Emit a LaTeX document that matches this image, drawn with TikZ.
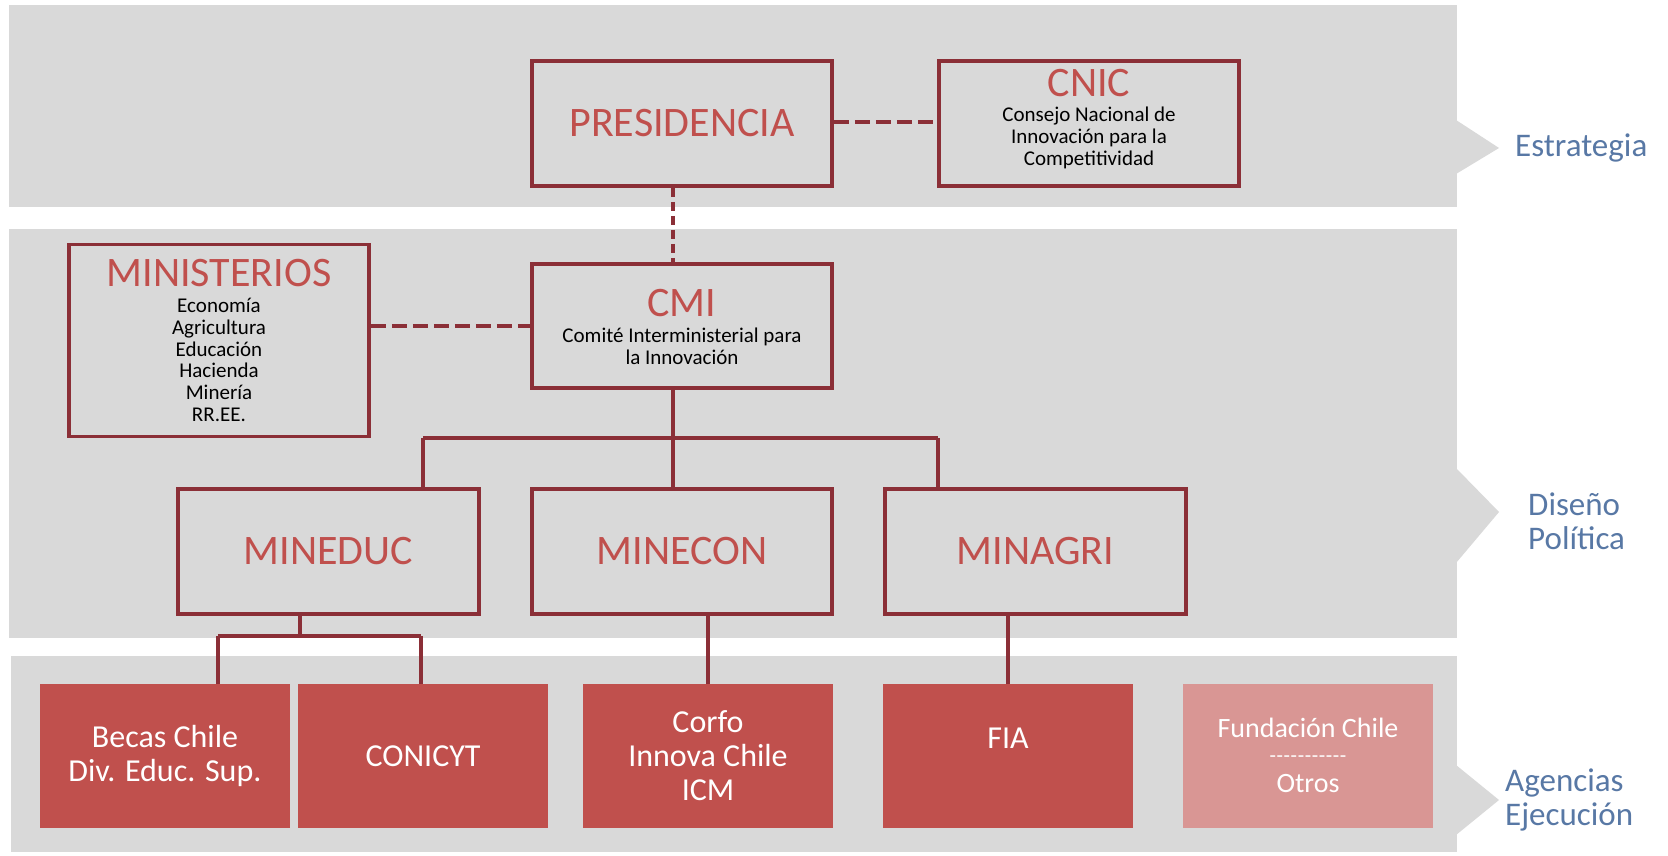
\documentclass[tikz,border=0pt]{standalone}
\usepackage{fontspec}
\setmainfont{Carlito}
\definecolor{bandgray}{RGB}{217,217,217}
\definecolor{boxred}{RGB}{139,47,55}
\definecolor{titlered}{RGB}{192,80,77}
\definecolor{fillred}{RGB}{192,80,77}
\definecolor{palered}{RGB}{217,150,148}
\definecolor{lblblue}{RGB}{88,120,165}
\tikzset{
  band/.style={fill=bandgray},
  obox/.style={draw=boxred, line width=3.5pt, minimum width=300pt, minimum height=125pt, inner sep=0pt},
  fbox/.style={fill=fillred, minimum width=250pt, minimum height=144pt, inner sep=0pt},
  big/.style={text=titlered, inner sep=0pt, font=\fontsize{42}{46}\selectfont},
  small/.style={text=black, align=center, inner sep=0pt, font=\fontsize{21}{21.8}\selectfont},
  wtext/.style={text=white, align=center, inner sep=0pt, font=\fontsize{32}{34}\selectfont},
  ptext/.style={text=white, align=center, inner sep=0pt, font=\fontsize{28}{30}\selectfont},
  lbl/.style={text=lblblue, align=left, anchor=west, inner sep=0pt, font=\fontsize{33}{34}\selectfont},
  conn/.style={draw=boxred, line width=3.5pt},
  dashh/.style={conn, dash pattern=on 15pt off 6pt},
  dashv/.style={conn, dash pattern=on 9pt off 5pt},
}
\begin{document}
\begin{tikzpicture}[x=1pt,y=-1pt]
\useasboundingbox (0,0) rectangle (1668,856);
\fill[white] (0,0) rectangle (1668,856);
% bands
\fill[band] (9,5) rectangle (1457,207);
\fill[band] (9,229) rectangle (1457,638);
\fill[band] (11,656) rectangle (1457,852);
\fill[band] (1456,120) -- (1499,148) -- (1456,174) -- cycle;
\fill[band] (1456,468) -- (1499,512) -- (1456,563) -- cycle;
\fill[band] (1456,765) -- (1499,800) -- (1456,835) -- cycle;
% labels
\node[lbl] (l1) at (1515,148) {Estrategia};
\node[lbl] (l2) at (1528,521) {Diseño\\Política};
\node[lbl] (l3) at (1505,800) {Agencias\\Ejecución};
% outlined boxes
\node[obox, big] (pres) at (682,123.5) {PRESIDENCIA};
\node[obox] (cnic) at (1089,123.5) {};
\node[big] (cnic-t) at (1089,83) {CNIC};
\node[small] (cnic-s) at (1089,138) {Consejo Nacional de\\Innovación para la\\Competitividad};
\node[obox, minimum height=124pt] (cmi) at (682,326) {};
\node[big] (cmi-t) at (682,303) {CMI};
\node[small] (cmi-s) at (682,346) {Comité Interministerial para\\la Innovación};
\node[obox, minimum height=192pt] (minis) at (219,340.5) {};
\node[big] (minis-t) at (219,273) {MINISTERIOS};
\node[small] (minis-s) at (219,360) {Economía\\Agricultura\\Educación\\Hacienda\\Minería\\RR.EE.};
\node[obox, big, minimum width=301pt] (mineduc) at (328.5,551.5) {MINEDUC};
\node[obox, big] (minecon) at (682,551.5) {MINECON};
\node[obox, big, minimum width=301pt] (minagri) at (1035.5,551.5) {MINAGRI};
% filled boxes
\node[fbox, wtext] (becas) at (165,756) {Becas Chile\\Div. Educ. Sup.};
\node[fbox, wtext] (conicyt) at (423,756) {CONICYT};
\node[fbox, wtext] (corfo) at (708,756) {Corfo\\Innova Chile\\ICM};
\node[fbox] (fia) at (1008,756) {};
\node[wtext] (fia-t) at (1008,738) {FIA};
\node[fbox, fill=palered] (fund) at (1308,756) {};
\node[ptext] (fund-a) at (1308,728) {Fundación Chile};
\node[ptext, font=\fontsize{21}{22}\selectfont] (fund-b) at (1308,759) {-\kern0.6pt-\kern0.6pt-\kern0.6pt-\kern0.6pt-\kern0.6pt-\kern0.6pt-\kern0.6pt-\kern0.6pt-\kern0.6pt-\kern0.6pt-};
\node[ptext] (fund-c) at (1308,784) {Otros};
% dashed links
\coordinate (tx) at (673,438);
\draw[dashh] (pres.east |- 0,122) -- (cnic.west |- 0,122);
\draw[dashv] (pres.south -| tx) -- (cmi.north -| tx);
\draw[dashh] (minis.east |- cmi) -- (cmi.west);
% tree
\coordinate (bl) at (423,438);
\coordinate (br) at (938,438);
\draw[conn] (cmi.south -| tx) -- (tx);
\draw[conn] (bl) -- (br);
\draw[conn] (bl) -- (bl |- mineduc.north);
\draw[conn] (tx) -- (tx |- minecon.north);
\draw[conn] (br) -- (br |- minagri.north);
\coordinate (ej) at (300,636);
\coordinate (el) at (218,636);
\coordinate (er) at (421,636);
\draw[conn] (mineduc.south -| ej) -- (ej);
\draw[conn] (el) -- (er);
\draw[conn] (el) -- (el |- becas.north);
\draw[conn] (er) -- (er |- conicyt.north);
\draw[conn] (minecon.south -| corfo) -- (corfo.north);
\draw[conn] (minagri.south -| fia) -- (fia.north);
\end{tikzpicture}
\end{document}
